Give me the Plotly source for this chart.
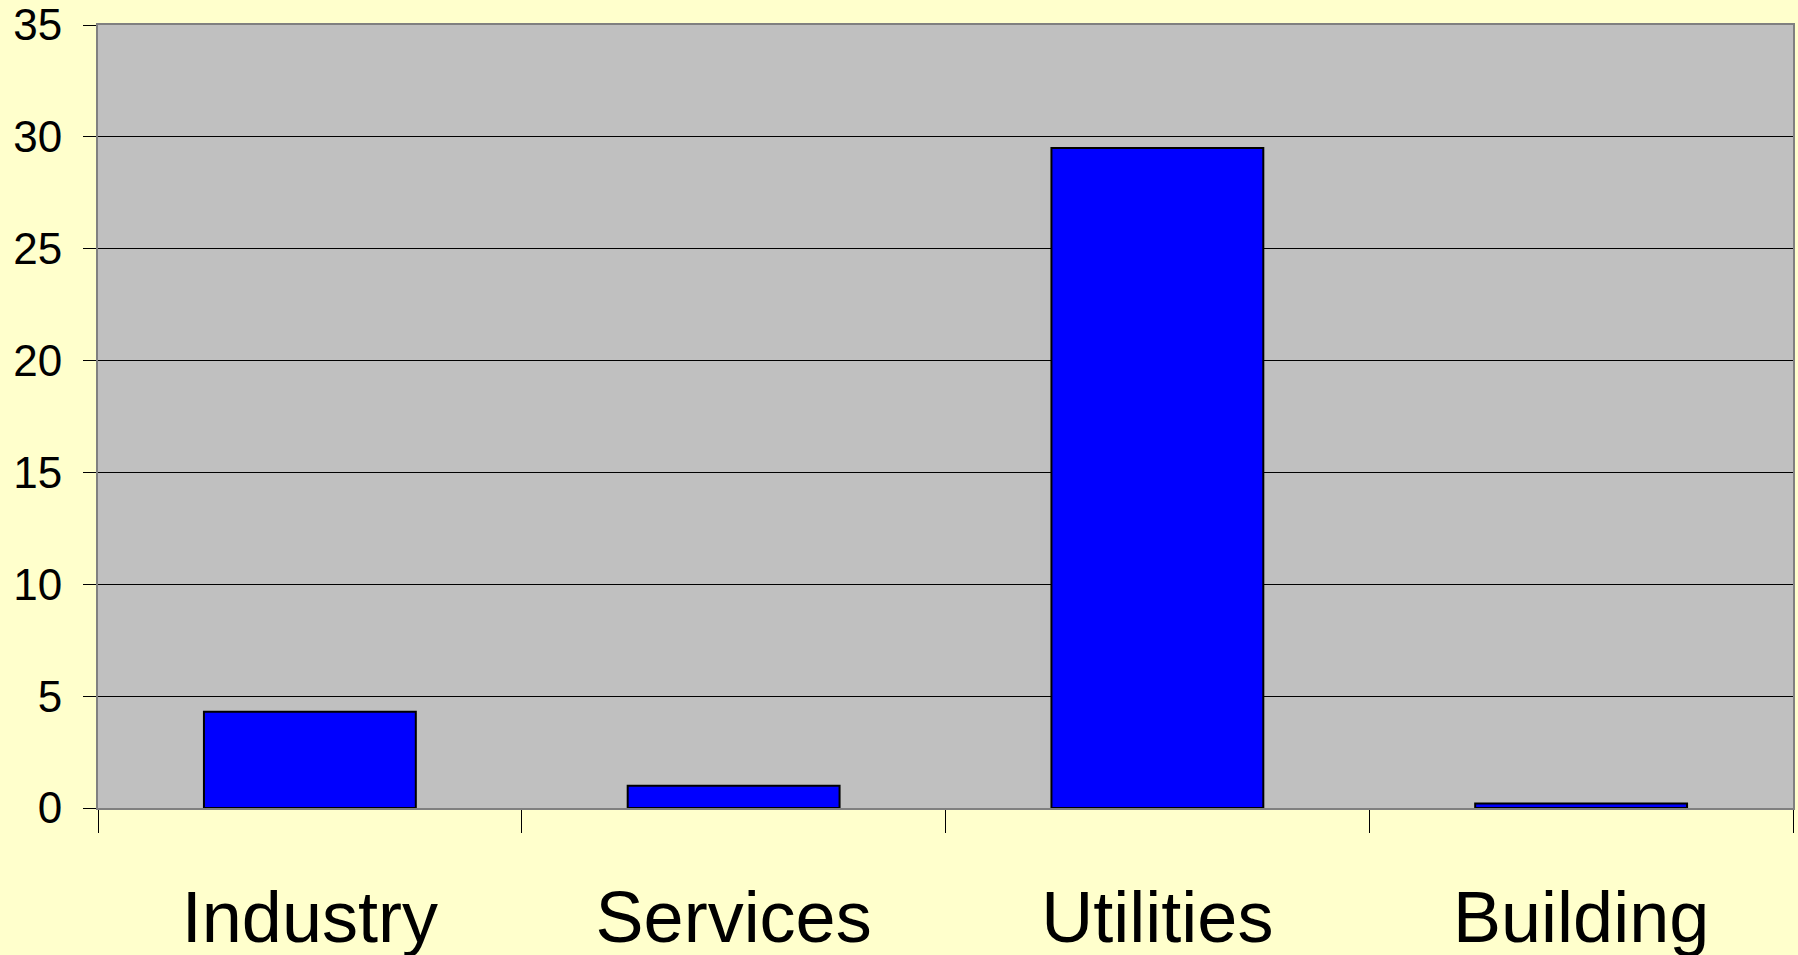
import plotly.graph_objects as go

sectors = ['Industry', 'Services', 'Utilities', 'Building']
values = [4.3, 1.0, 29.5, 0.2]
y_ticks = [0, 5, 10, 15, 20, 25, 30, 35]

fig = go.Figure()

fig.add_trace(go.Bar(x=sectors, y=values, width=0.5,
                     marker=dict(color='#0000ff', line=dict(color='black', width=2)),
                     showlegend=False))

fig.update_layout(
    width=1798, height=955,
    margin=dict(l=98, r=5, t=25, b=147),
    paper_bgcolor='#ffffcc',
    plot_bgcolor='#c0c0c0',
    font=dict(family='Liberation Sans, Arial, sans-serif', color='black'),
)

fig.update_xaxes(
    range=[-0.5, 3.5],
    automargin=False,
    tickson='boundaries',
    ticks='outside', ticklen=23, tickcolor='black', tickwidth=1,
    tickfont=dict(size=72),
    ticklabelstandoff=46,
    ticklabeloverflow='allow',
    showgrid=False,
    showline=True, linecolor='#808080', linewidth=2,
    mirror=True,
)

fig.update_yaxes(
    range=[0, 35],
    automargin=False,
    tickvals=y_ticks,
    ticks='outside', ticklen=13, tickcolor='black', tickwidth=1,
    tickfont=dict(size=44),
    ticklabelstandoff=12,
    ticklabeloverflow='allow',
    showgrid=True, gridcolor='black', gridwidth=1,
    zeroline=True, zerolinecolor='black', zerolinewidth=1,
    showline=True, linecolor='#808080', linewidth=2,
    mirror=True,
)

# drop the page's default body margin so the figure sits at the window corner
fig.write_html("out.html", config={'displayModeBar': False},
               post_script="document.body.style.margin='0';")
